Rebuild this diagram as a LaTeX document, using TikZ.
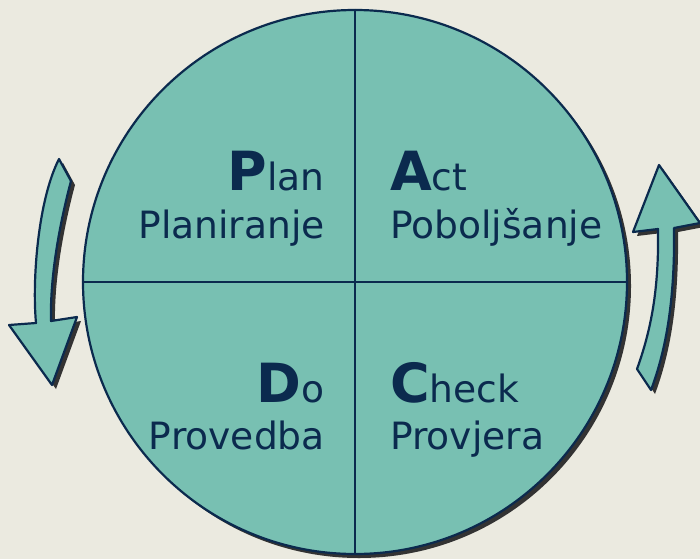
\documentclass[tikz,border=0pt]{standalone}
\usepackage{fontspec}
\setmainfont{DejaVu Sans}
\usetikzlibrary{shadows}

\definecolor{pdcateal}{HTML}{78C0B2}
\definecolor{pdcanavy}{HTML}{0B2A4E}
\definecolor{pdcabg}{HTML}{EBEAE0}
\definecolor{pdcashade}{HTML}{333333}

% first letter big and bold, rest normal
\newcommand{\bigfirst}[2]{{\fontsize{54}{54}\selectfont\bfseries #1}#2}

\begin{document}
\begin{tikzpicture}[x=1pt,y=-1pt,
  every node/.style={inner sep=0pt,text=pdcanavy,font=\fontsize{37.6}{37.6}\selectfont},
  shade/.style={drop shadow={shadow xshift=4pt,shadow yshift=-4pt,opacity=1,fill=pdcashade}},
  part/.style={fill=pdcateal,draw=pdcanavy,line width=2.2pt,line join=round}]
  \fill[pdcabg] (0,0) rectangle (700,559);
  \useasboundingbox (0,0) rectangle (700,559);

  \node[circle,part,shade,minimum size=544pt] (wheel) at (355,282) {};
  \draw[pdcanavy,line width=2.2pt] (wheel.north) -- (wheel.south)
                                   (wheel.west) -- (wheel.east);

  \node[anchor=base east] (plan) at (325,190) {\bigfirst{P}{lan}};
  \node[anchor=base east] (planir) at (325,238) {Planiranje};
  \node[anchor=base west] (act) at (390,190) {\bigfirst{A}{ct}};
  \node[anchor=base west] (actsub) at (390,238) {Poboljšanje};
  \node[anchor=base east] (do) at (325,402) {\bigfirst{D}{o}};
  \node[anchor=base east] (dosub) at (325,449) {Provedba};
  \node[anchor=base west] (check) at (390,402) {\bigfirst{C}{heck}};
  \node[anchor=base west] (checksub) at (390,449) {Provjera};

  % turning arrows
  \filldraw[part,shade] (59,159) -- (71,181) .. controls (58,230) and (50,280) .. (51,321)
    -- (77,317) -- (52,385) -- (9,325) -- (36,323)
    .. controls (32,280) and (38,200) .. (59,159) -- cycle;
  \filldraw[part,shade] (659,165) -- (700,223) -- (674,228)
    .. controls (675,300) and (666,350) .. (651,390) -- (637,369)
    .. controls (651,330) and (659,290) .. (658,229) -- (633,232) -- cycle;
\end{tikzpicture}
\end{document}
